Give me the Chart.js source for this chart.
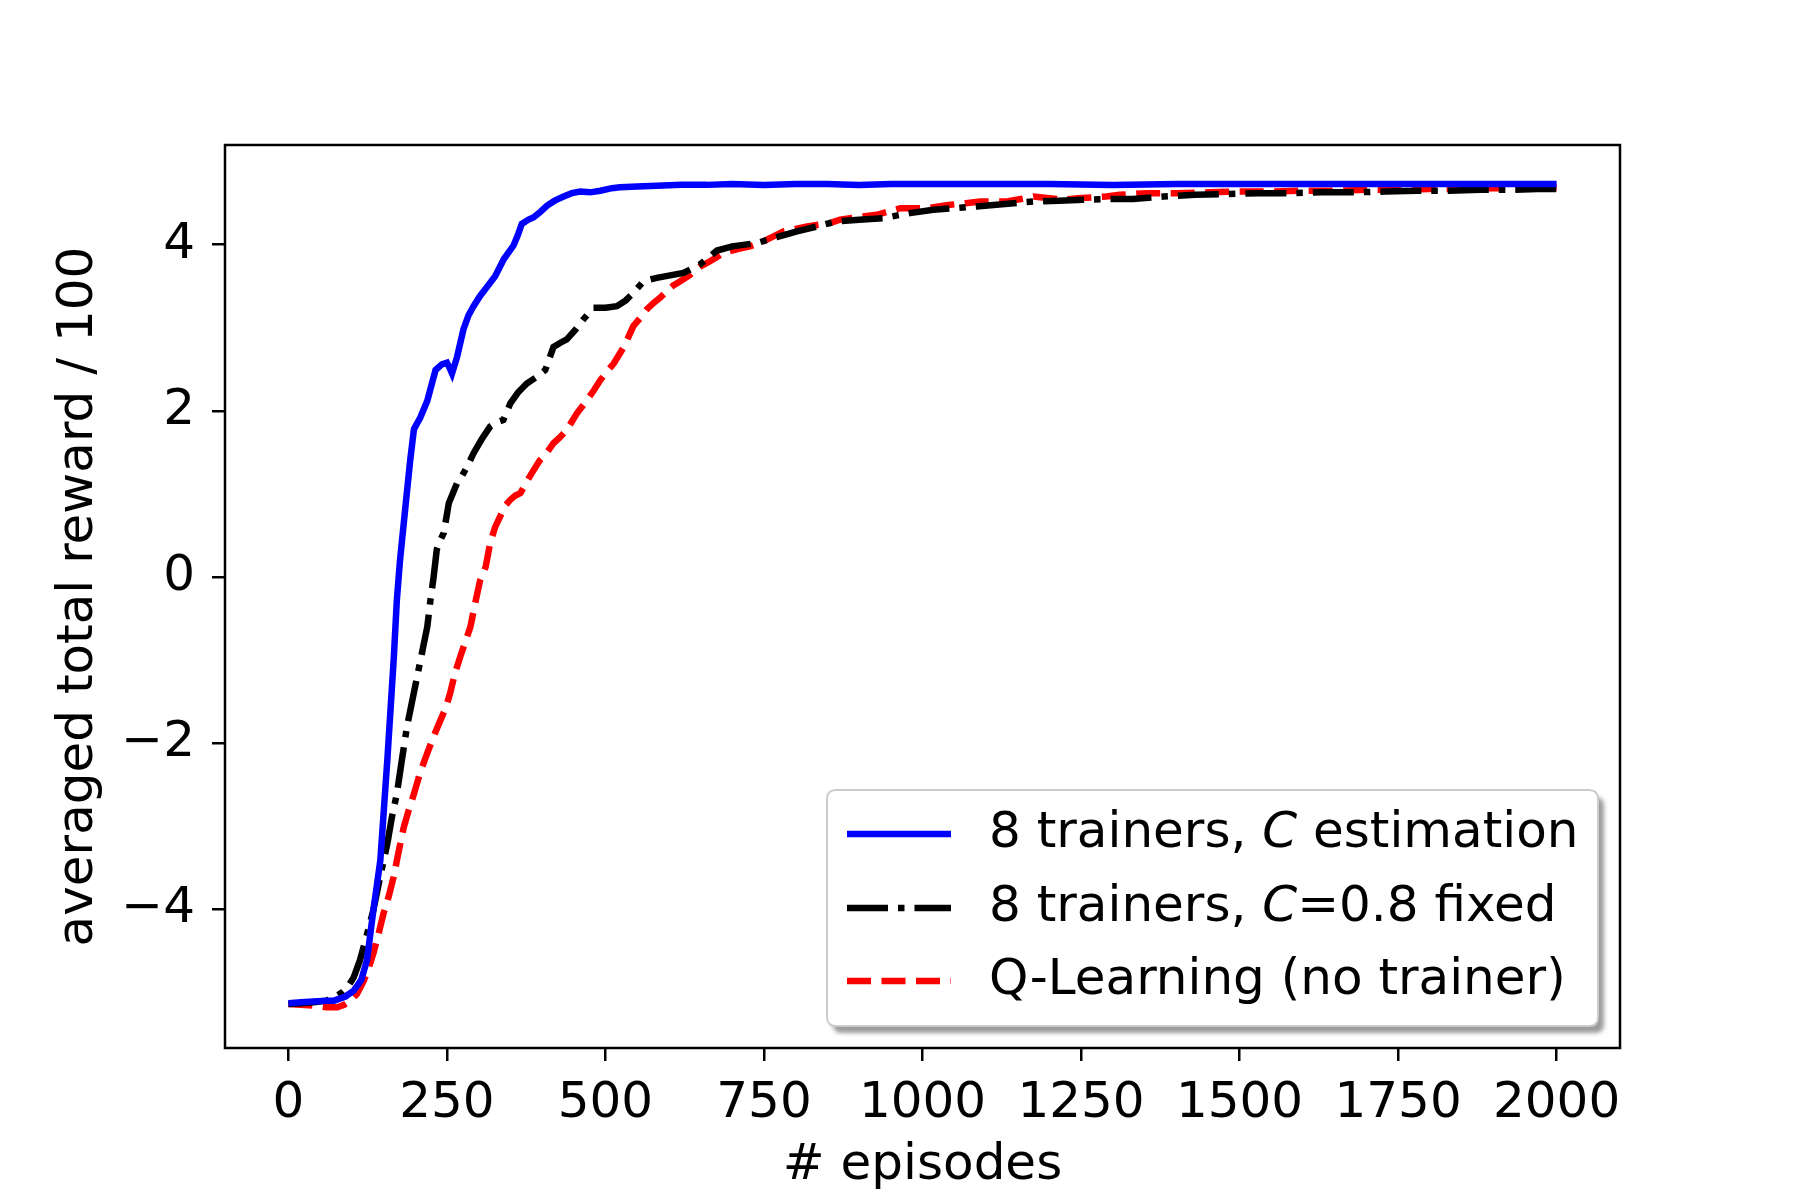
<!DOCTYPE html>
<html>
<head>
<meta charset="utf-8">
<script src="https://cdn.jsdelivr.net/npm/chart.js@4/dist/chart.umd.min.js"></script>
<style>
  html, body { margin: 0; padding: 0; background: #ffffff; }
  #wrap { width: 1800px; height: 1200px; }
</style>
</head>
<body>
<div id="wrap"><canvas id="c" width="1800" height="1200"></canvas></div>
<script>
// ---------------- data ----------------
const seriesLabels = [
  "8 trainers, C estimation",
  "8 trainers, C=0.8 fixed",
  "Q-Learning (no trainer)"
];
const xTicks = [0, 250, 500, 750, 1000, 1250, 1500, 1750, 2000];
const yTicks = [-4, -2, 0, 2, 4];
const xTitle = "# episodes";
const yTitle = "averaged total reward / 100";

const blueX = [0, 20, 40, 60, 72, 90, 103, 115, 124, 134, 145, 156, 166, 171, 176, 185, 192, 198, 208, 219, 232, 242, 250, 254, 258, 266, 276, 284, 292, 302, 311, 326, 340, 355, 362, 368, 378, 387, 398, 408, 420, 434, 447, 460, 476, 492, 510, 523, 550, 581, 620, 660, 700, 750, 800, 850, 900, 950, 1000, 1100, 1200, 1300, 1400, 1500, 1600, 1700, 1800, 1900, 2000];
const blueY = [-5.13, -5.12, -5.11, -5.10, -5.10, -5.05, -4.98, -4.85, -4.61, -4.01, -3.41, -2.20, -1.00, -0.28, 0.20, 0.88, 1.40, 1.78, 1.92, 2.12, 2.49, 2.56, 2.58, 2.52, 2.45, 2.65, 2.98, 3.15, 3.26, 3.38, 3.47, 3.62, 3.83, 3.99, 4.12, 4.25, 4.30, 4.33, 4.40, 4.47, 4.53, 4.58, 4.62, 4.64, 4.63, 4.65, 4.68, 4.69, 4.70, 4.71, 4.72, 4.72, 4.73, 4.72, 4.73, 4.73, 4.72, 4.73, 4.73, 4.73, 4.73, 4.72, 4.73, 4.73, 4.73, 4.73, 4.73, 4.73, 4.73];

const blackX = [0, 20, 40, 60, 72, 85, 93, 103, 113, 124, 134, 145, 156, 163, 171, 179, 187, 195, 203, 211, 219, 224, 229, 234, 240, 245, 253, 260, 266, 274, 282, 292, 305, 318, 328, 339, 350, 362, 376, 390, 405, 418, 429, 439, 452, 465, 481, 500, 518, 532, 544, 560, 581, 602, 623, 649, 676, 700, 739, 770, 802, 834, 864, 900, 938, 980, 1017, 1050, 1085, 1130, 1175, 1215, 1254, 1295, 1332, 1380, 1430, 1480, 1530, 1580, 1630, 1680, 1730, 1780, 1830, 1880, 1930, 1970, 2000];
const blackY = [-5.14, -5.13, -5.12, -5.10, -5.06, -5.00, -4.94, -4.82, -4.61, -4.30, -4.01, -3.60, -3.21, -2.90, -2.61, -2.20, -1.80, -1.50, -1.20, -0.90, -0.60, -0.28, 0.00, 0.33, 0.45, 0.53, 0.89, 1.02, 1.13, 1.22, 1.33, 1.49, 1.66, 1.81, 1.86, 1.89, 2.09, 2.22, 2.33, 2.40, 2.49, 2.77, 2.82, 2.86, 2.97, 3.10, 3.24, 3.24, 3.26, 3.33, 3.42, 3.56, 3.60, 3.63, 3.66, 3.76, 3.93, 3.98, 4.02, 4.09, 4.16, 4.22, 4.28, 4.30, 4.32, 4.38, 4.42, 4.44, 4.46, 4.49, 4.52, 4.53, 4.54, 4.55, 4.55, 4.58, 4.60, 4.61, 4.62, 4.62, 4.63, 4.63, 4.64, 4.65, 4.65, 4.66, 4.66, 4.67, 4.67];

const redX = [0, 20, 40, 60, 77, 88, 98, 108, 119, 127, 134, 142, 150, 158, 166, 174, 182, 190, 198, 208, 219, 230, 240, 248, 255, 263, 271, 279, 287, 295, 302, 311, 318, 326, 334, 342, 350, 358, 366, 376, 387, 396, 405, 418, 428, 439, 455, 471, 482, 492, 503, 513, 529, 544, 555, 565, 576, 586, 597, 607, 618, 634, 650, 665, 686, 710, 728, 749, 765, 781, 800, 818, 836, 854, 870, 886, 905, 928, 947, 965, 985, 1007, 1025, 1044, 1068, 1091, 1112, 1133, 1155, 1175, 1200, 1222, 1245, 1270, 1290, 1311, 1333, 1354, 1400, 1450, 1500, 1550, 1600, 1650, 1700, 1750, 1800, 1850, 1900, 1950, 2000];
const redY = [-5.14, -5.15, -5.16, -5.18, -5.18, -5.15, -5.10, -5.02, -4.86, -4.70, -4.53, -4.30, -4.05, -3.85, -3.61, -3.30, -3.01, -2.80, -2.61, -2.35, -2.12, -1.90, -1.72, -1.58, -1.40, -1.15, -0.96, -0.78, -0.60, -0.30, -0.05, 0.12, 0.40, 0.60, 0.73, 0.86, 0.93, 0.98, 1.01, 1.15, 1.29, 1.40, 1.47, 1.61, 1.68, 1.77, 1.97, 2.13, 2.25, 2.37, 2.48, 2.57, 2.77, 3.02, 3.12, 3.22, 3.30, 3.36, 3.44, 3.51, 3.56, 3.64, 3.74, 3.80, 3.90, 3.95, 3.98, 4.04, 4.10, 4.16, 4.19, 4.22, 4.24, 4.26, 4.30, 4.32, 4.34, 4.36, 4.40, 4.44, 4.44, 4.44, 4.46, 4.48, 4.50, 4.52, 4.52, 4.52, 4.55, 4.58, 4.56, 4.54, 4.56, 4.57, 4.58, 4.60, 4.61, 4.62, 4.62, 4.63, 4.64, 4.64, 4.65, 4.65, 4.66, 4.66, 4.67, 4.67, 4.68, 4.68, 4.69];

// ---------------- chart ----------------
const FONT = "DejaVu Sans";
const FS = 50;
const LW = 6.5;
const pts = (xs, ys) => xs.map((x, i) => ({ x: x, y: ys[i] }));

const seriesStyles = [
  { color: "#0000ff", dash: [] },
  { color: "#000000", dash: [41, 10, 6.5, 10] },
  { color: "#ff0000", dash: [24, 10.5] }
];

const framePlugin = {
  id: "frame",
  afterDatasetsDraw(chart) {
    const { ctx, chartArea: a } = chart;
    ctx.save();
    ctx.strokeStyle = "#000";
    ctx.lineWidth = 2.5;
    ctx.strokeRect(a.left, a.top, a.right - a.left, a.bottom - a.top);
    ctx.restore();
  }
};

function roundRect(ctx, x, y, w, h, r) {
  ctx.beginPath();
  ctx.moveTo(x + r, y);
  ctx.lineTo(x + w - r, y);
  ctx.quadraticCurveTo(x + w, y, x + w, y + r);
  ctx.lineTo(x + w, y + h - r);
  ctx.quadraticCurveTo(x + w, y + h, x + w - r, y + h);
  ctx.lineTo(x + r, y + h);
  ctx.quadraticCurveTo(x, y + h, x, y + h - r);
  ctx.lineTo(x, y + r);
  ctx.quadraticCurveTo(x, y, x + r, y);
  ctx.closePath();
}

const legendPlugin = {
  id: "mplLegend",
  afterDraw(chart) {
    const ctx = chart.ctx;
    const bx = 827, by = 790, bw = 771, bh = 236, r = 9;
    ctx.save();
    // shadow
    ctx.fillStyle = "rgba(90,90,90,0.6)";
    ctx.filter = "blur(2px)";
    roundRect(ctx, bx + 6, by + 7, bw, bh, r);
    ctx.fill();
    ctx.filter = "none";
    // box
    ctx.fillStyle = "#ffffff";
    roundRect(ctx, bx, by, bw, bh, r);
    ctx.fill();
    ctx.strokeStyle = "#cccccc";
    ctx.lineWidth = 2;
    ctx.stroke();
    const rowsY = [834, 908, 981];
    chart.data.datasets.forEach((ds, i) => {
      const y = rowsY[i];
      ctx.save();
      ctx.strokeStyle = ds.borderColor;
      ctx.lineWidth = ds.borderWidth;
      ctx.setLineDash(ds.borderDash || []);
      ctx.beginPath();
      ctx.moveTo(847, y);
      ctx.lineTo(951, y);
      ctx.stroke();
      ctx.restore();
      // text with italic C
      ctx.fillStyle = "#000";
      ctx.textBaseline = "middle";
      ctx.textAlign = "left";
      let x = 989;
      const parts = ds.label.split(/(\bC\b)/);
      parts.forEach(p => {
        if (!p) return;
        ctx.font = (p === "C" ? "oblique " : "") + FS + "px '" + FONT + "'";
        ctx.fillText(p, x, y);
        x += ctx.measureText(p).width;
      });
    });
    ctx.restore();
  }
};

new Chart(document.getElementById("c"), {
  type: "line",
  data: {
    datasets: [
      { label: seriesLabels[0], data: pts(blueX, blueY) },
      { label: seriesLabels[1], data: pts(blackX, blackY) },
      { label: seriesLabels[2], data: pts(redX, redY) }
    ].map((d, i) => Object.assign(d, {
      borderColor: seriesStyles[i].color,
      backgroundColor: seriesStyles[i].color,
      borderDash: seriesStyles[i].dash,
      borderWidth: LW,
      pointRadius: 0,
      tension: 0,
      fill: false
    }))
  },
  options: {
    responsive: false,
    animation: false,
    devicePixelRatio: 1,
    layout: { padding: { top: 145, right: 180, left: 0, bottom: 0 } },
    plugins: { legend: { display: false }, tooltip: { enabled: false } },
    scales: {
      x: {
        type: "linear",
        min: -100,
        max: 2100,
        afterFit(s) { s.height = 152; },
        afterBuildTicks(s) { s.ticks = xTicks.map(v => ({ value: v })); },
        border: { display: false },
        grid: { drawOnChartArea: false, drawTicks: true, tickLength: 13, color: "#000", lineWidth: 2.5 },
        ticks: { color: "#000", font: { family: FONT, size: FS }, padding: 13, maxRotation: 0, autoSkip: false,
                 callback: v => String(v) },
        title: { display: true, text: xTitle, color: "#000", font: { family: FONT, size: FS }, padding: { top: 4, bottom: 4 } }
      },
      y: {
        type: "linear",
        min: -5.67,
        max: 5.20,
        afterFit(s) { s.width = 225; },
        afterBuildTicks(s) { s.ticks = yTicks.map(v => ({ value: v })); },
        border: { display: false },
        grid: { drawOnChartArea: false, drawTicks: true, tickLength: 13, color: "#000", lineWidth: 2.5 },
        ticks: { color: "#000", font: { family: FONT, size: FS }, padding: 17, autoSkip: false,
                 callback: v => (v < 0 ? "\u2212" + Math.abs(v) : String(v)) },
        title: { display: true, text: yTitle, color: "#000", font: { family: FONT, size: FS }, padding: { top: 49, bottom: 49 } }
      }
    }
  },
  plugins: [framePlugin, legendPlugin]
});
</script>
</body>
</html>
